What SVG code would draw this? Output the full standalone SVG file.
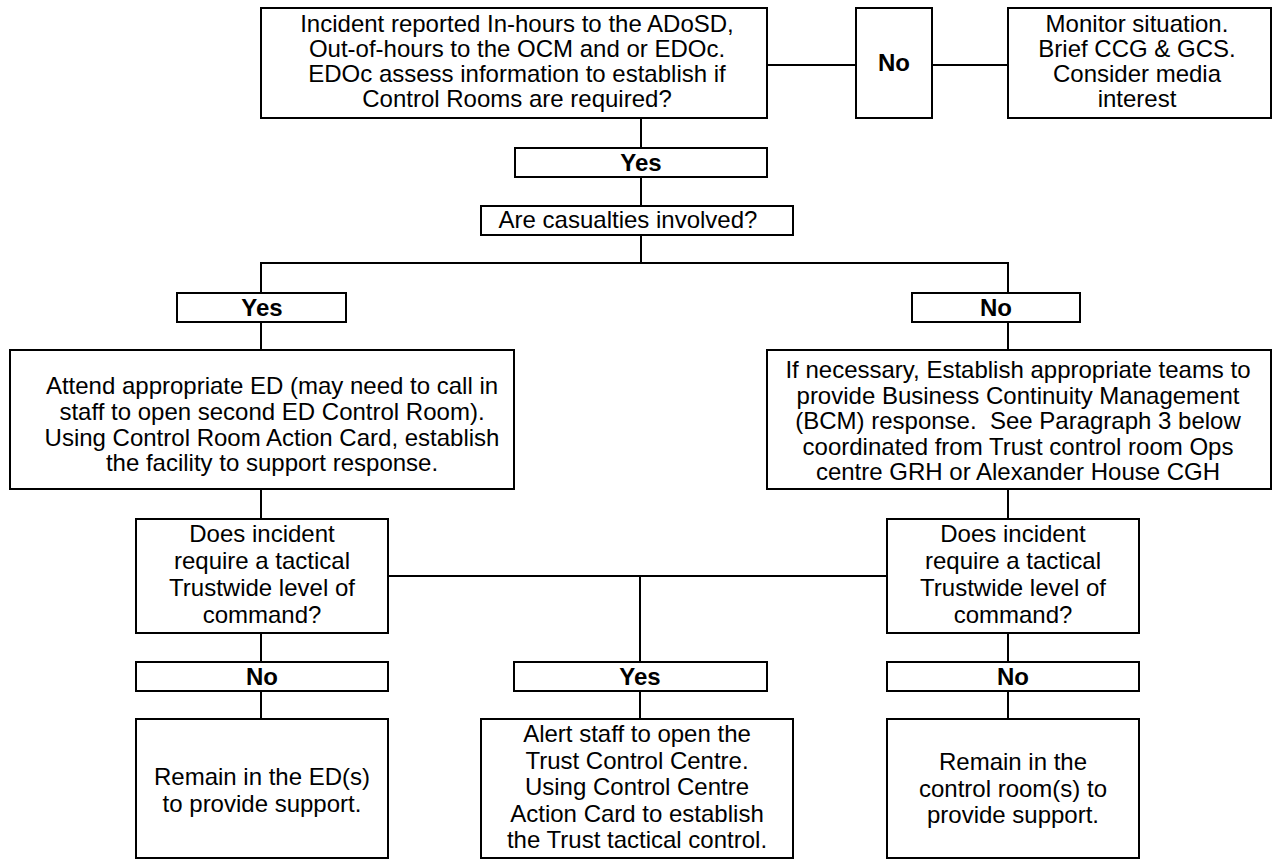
<svg xmlns="http://www.w3.org/2000/svg" width="1274" height="859" viewBox="0 0 1274 859">
<style>
rect{fill:#fff;stroke:#000;stroke-width:2}
line{stroke:#000;stroke-width:2}
text{font-family:"Liberation Sans",Arial,sans-serif;font-size:24px;fill:#000;text-anchor:middle}
.b{font-weight:bold}
</style>
<rect x="0" y="0" width="1274" height="859" style="stroke:none"/>
<g id="connectors">
<line x1="767" y1="65" x2="856" y2="65"/>
<line x1="932" y1="65" x2="1008" y2="65"/>
<line x1="641" y1="118" x2="641" y2="148"/>
<line x1="641" y1="177" x2="641" y2="206"/>
<line x1="641" y1="235" x2="641" y2="263"/>
<line x1="260" y1="263" x2="1009" y2="263"/>
<line x1="261" y1="263" x2="261" y2="293"/>
<line x1="261" y1="322" x2="261" y2="350"/>
<line x1="1008" y1="263" x2="1008" y2="293"/>
<line x1="1008" y1="322" x2="1008" y2="350"/>
<line x1="261" y1="489" x2="261" y2="519"/>
<line x1="1008" y1="489" x2="1008" y2="519"/>
<line x1="388" y1="576" x2="887" y2="576"/>
<line x1="640" y1="576" x2="640" y2="662"/>
<line x1="261" y1="633" x2="261" y2="662"/>
<line x1="261" y1="691" x2="261" y2="719"/>
<line x1="640" y1="691" x2="640" y2="719"/>
<line x1="1008" y1="633" x2="1008" y2="662"/>
<line x1="1008" y1="691" x2="1008" y2="719"/>
</g>
<g id="n-start">
<rect x="261" y="8" width="506" height="110"/>
<text x="517" y="32">Incident reported In-hours to the ADoSD,</text>
<text x="517" y="57">Out-of-hours to the OCM and or EDOc.</text>
<text x="517" y="82">EDOc assess information to establish if</text>
<text x="517" y="107">Control Rooms are required?</text>
</g>
<g id="n-no-top">
<rect x="856" y="8" width="76" height="110"/>
<text class="b" x="894" y="71">No</text>
</g>
<g id="n-monitor">
<rect x="1008" y="8" width="263" height="110"/>
<text x="1137" y="32">Monitor situation.</text>
<text x="1137" y="57">Brief CCG &amp; GCS.</text>
<text x="1137" y="82">Consider media</text>
<text x="1137" y="107">interest</text>
</g>
<g id="n-yes-top">
<rect x="515" y="148" width="252" height="29"/>
<text class="b" x="641" y="171">Yes</text>
</g>
<g id="n-casualties">
<rect x="481" y="206" width="312" height="29"/>
<text x="628" y="228">Are casualties involved?</text>
</g>
<g id="n-yes-left">
<rect x="177" y="293" width="169" height="29"/>
<text class="b" x="262" y="316">Yes</text>
</g>
<g id="n-no-right">
<rect x="912" y="293" width="168" height="29"/>
<text class="b" x="996" y="316">No</text>
</g>
<g id="n-attend-ed">
<rect x="10" y="350" width="504" height="139"/>
<text x="272" y="394">Attend appropriate ED (may need to call in</text>
<text x="272" y="420">staff to open second ED Control Room).</text>
<text x="272" y="446">Using Control Room Action Card, establish</text>
<text x="272" y="471">the facility to support response.</text>
</g>
<g id="n-bcm">
<rect x="767" y="350" width="504" height="139"/>
<text x="1018" y="378">If necessary, Establish appropriate teams to</text>
<text x="1018" y="403.5">provide Business Continuity Management</text>
<text x="1018" y="429" xml:space="preserve">(BCM) response.  See Paragraph 3 below</text>
<text x="1018" y="454.5">coordinated from Trust control room Ops</text>
<text x="1018" y="480">centre GRH or Alexander House CGH</text>
</g>
<g id="n-tactical-left">
<rect x="136" y="519" width="252" height="114"/>
<text x="262" y="542">Does incident</text>
<text x="262" y="569">require a tactical</text>
<text x="262" y="596">Trustwide level of</text>
<text x="262" y="623">command?</text>
</g>
<g id="n-tactical-right">
<rect x="887" y="519" width="252" height="114"/>
<text x="1013" y="542">Does incident</text>
<text x="1013" y="569">require a tactical</text>
<text x="1013" y="596">Trustwide level of</text>
<text x="1013" y="623">command?</text>
</g>
<g id="n-no-bottom-left">
<rect x="136" y="662" width="252" height="29"/>
<text class="b" x="262" y="685">No</text>
</g>
<g id="n-yes-bottom">
<rect x="514" y="662" width="253" height="29"/>
<text class="b" x="640" y="685">Yes</text>
</g>
<g id="n-no-bottom-right">
<rect x="887" y="662" width="252" height="29"/>
<text class="b" x="1013" y="685">No</text>
</g>
<g id="n-remain-ed">
<rect x="136" y="719" width="252" height="139"/>
<text x="262" y="785">Remain in the ED(s)</text>
<text x="262" y="812">to provide support.</text>
</g>
<g id="n-trust-centre">
<rect x="481" y="719" width="312" height="139"/>
<text x="637" y="742">Alert staff to open the</text>
<text x="637" y="769">Trust Control Centre.</text>
<text x="637" y="795">Using Control Centre</text>
<text x="637" y="822">Action Card to establish</text>
<text x="637" y="848">the Trust tactical control.</text>
</g>
<g id="n-remain-room">
<rect x="887" y="719" width="252" height="139"/>
<text x="1013" y="770">Remain in the</text>
<text x="1013" y="797">control room(s) to</text>
<text x="1013" y="823">provide support.</text>
</g>
</svg>
